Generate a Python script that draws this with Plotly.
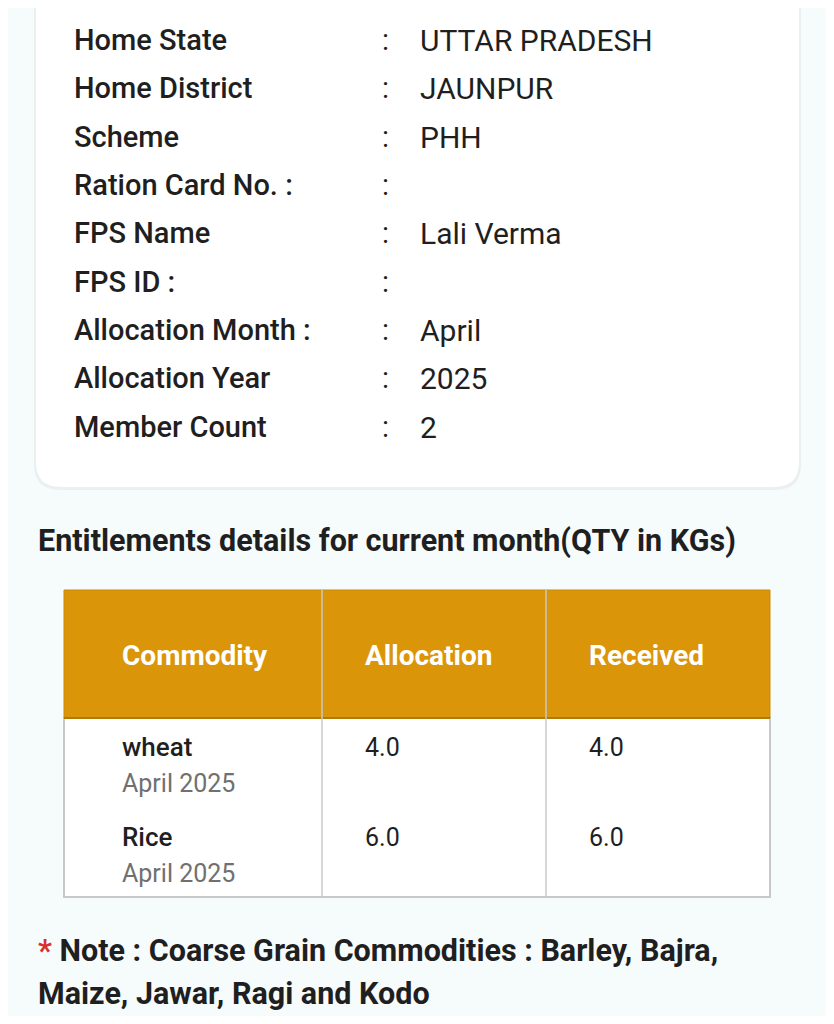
import plotly.graph_objects as go

field_labels = ["Home State", "Home District", "Scheme", "Ration Card No. :", "FPS Name",
                "FPS ID :", "Allocation Month :", "Allocation Year", "Member Count"]
field_values = ["UTTAR PRADESH", "JAUNPUR", "PHH", "", "Lali Verma", "", "April", "2025", "2"]
heading = "Entitlements details for current month(QTY in KGs)"
columns = ["Commodity", "Allocation", "Received"]
commodities = ["wheat", "Rice"]
periods = ["April 2025", "April 2025"]
allocation = ["4.0", "6.0"]
received = ["4.0", "6.0"]
note_lines = ["Note : Coarse Grain Commodities : Barley, Bajra,", "Maize, Jawar, Ragi and Kodo"]

W, H = 834, 1024
OFF = 8  # page body margin
FONT = "Roboto"
DARK = "#1f1f1f"
fig = go.Figure()
shapes, ann = [], []

def rr(x0, y0, x1, y1, r):
    return (f"M{x0+r},{y0} L{x1-r},{y0} Q{x1},{y0} {x1},{y0+r} L{x1},{y1-r} Q{x1},{y1} {x1-r},{y1} "
            f"L{x0+r},{y1} Q{x0},{y1} {x0},{y1-r} L{x0},{y0+r} Q{x0},{y0} {x0+r},{y0} Z")

shapes.append(dict(type="rect", x0=-20, x1=W + 20, y0=-20, y1=H + 20, fillcolor="#f6fbfc", line=dict(width=0), layer="below"))
shapes.append(dict(type="path", path=rr(34, -30, 801, 490, 26), fillcolor="#eaeff0", line=dict(width=0), layer="below"))
shapes.append(dict(type="path", path=rr(36, -30, 799, 487, 25), fillcolor="white", line=dict(width=0), layer="below"))

row_y = [40, 88, 137, 185, 233, 282, 330, 378, 427]
for y, lab, val in zip(row_y, field_labels, field_values):
    ann.append(dict(x=72, y=y, text=lab, xanchor="left", font=dict(size=29, color=DARK, family=FONT, weight=500)))
    ann.append(dict(x=385, y=y, text=":", xanchor="center", font=dict(size=29, color=DARK, family=FONT)))
    if val:
        ann.append(dict(x=418, y=y, text=val, xanchor="left", font=dict(size=30, color=DARK, family=FONT)))

ann.append(dict(x=36, y=541, text=f"<b>{heading}</b>", xanchor="left", font=dict(size=30.5, color=DARK, family=FONT)))

tx0, tx1, ty0, thead, ty1 = 64, 770, 590, 718, 897
shapes.append(dict(type="rect", x0=tx0, x1=tx1, y0=thead, y1=ty1, fillcolor="white", line=dict(color="#c8c8c8", width=2), layer="below"))
shapes.append(dict(type="rect", x0=tx0, x1=tx1, y0=ty0, y1=thead, fillcolor="#db9508", line=dict(color="#c98a06", width=1), layer="below"))
shapes.append(dict(type="line", x0=tx0, x1=tx1, y0=thead, y1=thead, line=dict(color="#b07a05", width=2)))
for cx in [322, 546]:
    shapes.append(dict(type="line", x0=cx, x1=cx, y0=ty0, y1=ty1, line=dict(color="#c8c8c8", width=1.5)))
for cx, c in zip([120, 363, 587], columns):
    ann.append(dict(x=cx, y=655, text=f"<b>{c}</b>", xanchor="left", font=dict(size=28, color="white", family=FONT)))
for i, (cm, pr, a, r) in enumerate(zip(commodities, periods, allocation, received)):
    y = 747 + i * 90
    ann.append(dict(x=120, y=y, text=cm, xanchor="left", font=dict(size=26, color=DARK, family=FONT, weight=500)))
    ann.append(dict(x=120, y=y + 36, text=pr, xanchor="left", font=dict(size=25, color="#707070", family=FONT)))
    ann.append(dict(x=363, y=y, text=a, xanchor="left", font=dict(size=25, color=DARK, family=FONT)))
    ann.append(dict(x=587, y=y, text=r, xanchor="left", font=dict(size=25, color=DARK, family=FONT)))

ann.append(dict(x=36, y=950, text=f"<span style='color:#d9302c'><b>*</b></span> <b>{note_lines[0]}</b>",
                xanchor="left", font=dict(size=30.5, color=DARK, family=FONT)))
ann.append(dict(x=36, y=993, text=f"<b>{note_lines[1]}</b>", xanchor="left", font=dict(size=30.5, color=DARK, family=FONT)))

for a in ann:
    a.update(xref="x", yref="y", showarrow=False, yanchor="middle")

fig.update_layout(width=W - 2 * OFF, height=H - 2 * OFF, margin=dict(l=0, r=0, t=0, b=0),
                  paper_bgcolor="#f6fbfc", plot_bgcolor="#f6fbfc",
                  shapes=shapes, annotations=ann, showlegend=False,
                  xaxis=dict(range=[OFF, W - OFF], visible=False, fixedrange=True),
                  yaxis=dict(range=[H - OFF, OFF], visible=False, fixedrange=True))
fig.write_html("out.html", config={"displayModeBar": False})
